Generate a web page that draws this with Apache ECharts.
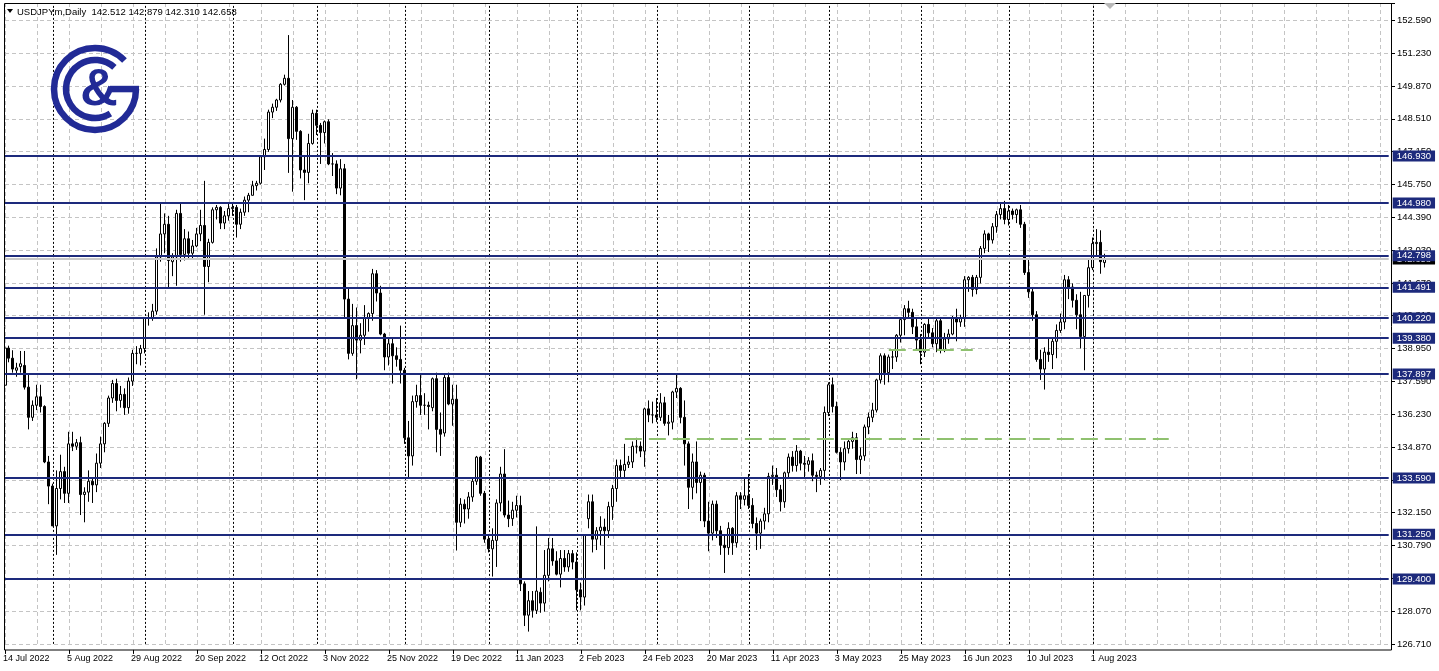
<!DOCTYPE html>
<html><head><meta charset="utf-8">
<script src="https://cdn.jsdelivr.net/npm/echarts@6/dist/echarts.min.js"></script>
<style>html,body{margin:0;padding:0;background:#fff}#c{width:1439px;height:671px}</style>
</head><body><div id="c"></div>
<script>
// ---- data: daily candles [open, high, low, close] ----
const jul22 = [[137.43,139.38,137.30,138.97],[138.97,139.07,138.38,138.55],[138.55,138.88,137.95,138.10],[138.05,138.36,137.78,138.15],[138.20,138.85,137.95,138.32],[138.25,138.85,137.25,137.35],[137.35,137.90,135.60,136.10],[136.10,136.80,135.95,136.60],[136.60,137.45,136.40,136.95],[136.95,137.45,136.30,136.55],[136.55,136.60,134.20,134.25],[134.25,134.50,132.50,133.25]];
const aug22 = [[133.25,133.35,131.60,131.60],[131.60,133.90,130.40,133.15],[133.15,134.55,132.70,133.85],[133.85,134.05,132.55,132.95],[132.95,135.50,132.55,135.00],[135.00,135.50,134.70,134.90],[134.90,135.20,134.75,135.05],[135.05,135.30,132.05,132.90],[132.90,133.20,131.75,133.00],[133.00,133.90,132.60,133.45],[133.45,133.60,132.55,133.30],[133.30,134.60,133.00,134.20],[134.20,135.30,134.00,135.00],[135.00,135.90,134.65,135.85],[135.85,137.00,135.70,136.90],[136.90,137.65,136.70,137.50],[137.50,137.70,136.35,136.80],[136.80,137.40,136.50,137.05],[137.05,137.30,136.20,136.50],[136.50,137.75,136.25,137.60],[137.60,138.90,137.40,138.75],[138.75,139.05,138.30,138.75],[138.75,139.10,138.25,138.95]];
const sep22 = [[138.95,140.25,138.75,140.20],[140.20,140.45,139.90,140.20],[140.20,140.80,140.10,140.50],[140.50,143.10,140.35,142.75],[142.75,144.99,142.55,143.70],[143.70,144.55,142.90,144.10],[144.10,144.45,141.50,142.60],[142.55,142.90,141.95,142.75],[142.75,144.70,141.55,144.55],[144.55,144.95,142.55,142.85],[142.85,143.90,142.60,143.50],[143.50,143.80,142.70,142.90],[142.90,143.45,142.65,143.20],[143.20,143.95,143.15,143.70],[143.70,144.70,143.40,144.05],[144.05,145.90,140.35,142.35],[142.35,143.50,141.70,143.35],[143.35,144.80,143.30,144.70],[144.70,144.90,144.30,144.80],[144.80,144.85,143.90,144.15],[144.15,144.65,143.90,144.45],[144.45,144.95,144.25,144.75]];
const oct22 = [[144.75,145.00,144.45,144.80],[144.80,144.90,143.55,144.10],[144.10,144.75,143.90,144.60],[144.60,145.25,144.45,145.10],[145.10,145.40,144.60,145.30],[145.30,145.90,145.30,145.70],[145.70,145.90,145.50,145.80],[145.80,146.95,145.75,146.90],[146.90,147.65,146.35,147.20],[147.20,148.85,147.10,148.75],[148.75,149.10,148.50,148.95],[148.95,149.30,148.80,149.25],[149.25,149.95,149.15,149.90],[149.90,150.30,149.85,150.15],[150.15,151.94,146.23,147.65],[147.65,149.25,145.45,148.95],[148.95,149.00,147.60,147.95],[147.95,148.00,146.00,146.35],[146.35,146.95,145.10,146.25],[146.25,147.85,145.80,147.45],[147.45,148.85,147.40,148.70]];
const nov22 = [[148.70,148.85,147.80,148.20],[148.20,148.30,146.60,147.90],[147.90,148.40,147.45,148.35],[148.35,148.45,146.55,146.60],[146.60,147.05,146.10,146.60],[146.60,146.75,145.35,145.60],[145.60,146.80,145.30,146.40],[146.40,146.60,140.20,141.00],[141.00,141.50,138.50,138.75],[138.75,140.80,138.65,139.90],[139.90,140.65,137.68,139.30],[139.30,140.00,138.75,139.50],[139.50,140.75,139.10,140.20],[140.20,140.45,139.65,140.40],[140.40,142.25,140.10,142.05],[142.05,142.20,140.90,141.25],[141.25,141.55,139.50,139.55],[139.55,139.60,138.05,138.60],[138.60,139.35,138.25,139.15],[139.15,139.40,137.50,138.65],[138.65,139.00,138.20,138.50],[138.50,139.90,137.50,138.05]];
const dec22 = [[138.05,138.15,135.00,135.25],[135.25,135.95,133.60,134.50],[134.50,137.00,134.10,136.75],[136.75,137.45,136.50,137.00],[137.00,137.85,136.20,136.60],[136.60,137.10,136.20,136.60],[136.60,136.75,135.60,136.55],[136.50,137.75,136.35,137.70],[137.70,137.95,134.65,135.60],[135.60,136.30,134.50,135.40],[135.45,137.85,135.30,137.75],[137.75,137.95,136.60,136.65],[136.65,137.45,135.75,136.85],[136.85,137.45,130.58,131.75],[131.75,132.75,131.55,132.50],[132.50,132.70,131.70,132.30],[132.30,133.00,131.90,132.80],[132.80,133.55,132.60,133.45],[133.45,134.50,133.30,134.45],[134.45,134.50,132.85,132.95],[132.95,133.05,130.90,131.05]];
const jan23 = [[131.05,131.25,130.50,130.65],[130.65,131.50,129.50,131.00],[131.00,132.70,129.90,132.55],[132.55,134.05,132.20,133.75],[133.75,134.78,131.95,132.05],[132.05,132.65,131.55,131.90],[131.90,132.60,131.60,132.25],[132.25,132.85,131.95,132.45],[132.45,132.85,128.90,129.20],[129.20,129.30,127.45,127.90],[127.90,128.90,127.22,128.50],[128.50,128.90,127.80,128.10],[128.10,131.58,127.95,128.90],[128.85,129.05,128.00,128.40],[128.40,130.60,128.05,129.55],[129.55,131.10,129.30,130.65],[130.65,131.10,129.95,130.15],[130.15,130.55,129.55,129.60],[129.60,130.60,129.05,130.25],[130.25,130.60,129.70,129.90],[129.90,130.60,129.70,130.45],[130.45,130.60,129.80,130.10]];
const feb23 = [[130.10,130.50,128.10,128.95],[128.95,129.25,128.10,128.65],[128.65,131.20,128.30,131.20],[131.90,132.90,131.50,132.60],[132.60,132.90,130.50,131.05],[131.05,131.55,130.60,131.40],[131.40,132.00,130.80,131.55],[131.55,131.90,129.80,131.40],[131.40,132.60,131.10,132.40],[132.40,133.30,131.85,133.15],[133.15,134.35,132.60,134.10],[134.10,134.35,133.60,133.90],[133.90,135.00,133.55,134.15],[134.15,134.50,134.00,134.25],[134.25,135.10,134.00,134.90],[134.90,135.25,134.60,134.90],[134.90,135.10,134.45,134.70],[134.70,136.50,134.05,136.45],[136.45,136.80,135.90,136.20],[136.20,136.75,135.85,136.20]];
const mar23 = [[136.20,136.90,135.90,136.10],[136.10,137.10,135.95,136.70],[136.70,136.95,135.75,135.85],[135.85,136.20,135.35,135.90],[135.90,137.20,135.60,137.15],[137.15,137.90,136.90,137.30],[137.30,137.35,135.85,136.10],[136.10,136.80,134.10,135.00],[135.00,135.10,132.30,133.20],[133.20,134.60,132.70,134.25],[134.25,135.10,132.95,133.40],[133.40,133.85,131.80,133.70],[133.70,133.80,131.55,131.80],[131.80,132.60,130.55,131.30],[131.30,132.65,131.00,132.50],[132.50,132.65,131.10,131.40],[131.40,131.60,130.40,130.80],[130.80,131.20,129.65,130.70],[130.70,131.75,130.40,131.50],[131.50,131.55,130.40,130.90],[130.90,133.00,130.70,132.85],[132.85,133.00,132.30,132.70],[132.70,133.60,132.45,132.85]];
const apr23 = [[132.85,133.75,132.30,132.45],[132.45,132.75,131.50,131.70],[131.70,131.95,130.60,131.30],[131.30,131.90,130.65,131.80],[131.80,132.35,131.45,132.10],[132.10,133.80,131.75,133.65],[133.65,134.10,133.30,133.70],[133.70,134.00,132.80,133.10],[133.10,133.30,132.20,132.60],[132.60,133.85,132.35,133.80],[133.80,134.60,133.55,134.45],[134.45,134.70,133.85,134.10],[134.10,134.95,133.85,134.70],[134.70,134.75,133.90,134.20],[134.20,134.50,133.60,134.15],[134.15,134.45,133.85,134.30],[134.30,134.60,133.45,133.70],[133.70,133.85,133.00,133.65],[133.65,134.00,133.30,133.90],[133.90,136.55,133.50,136.30]];
const may23 = [[136.30,137.55,136.15,137.45],[137.45,137.75,136.30,136.55],[136.55,136.75,134.60,134.65],[134.65,134.85,133.50,134.25],[134.25,135.10,133.90,134.80],[134.80,135.20,134.60,135.10],[135.10,135.50,134.80,135.25],[135.25,135.45,133.75,134.35],[134.35,134.85,133.75,134.50],[134.50,135.80,134.30,135.70],[135.70,136.30,135.40,136.10],[136.10,136.70,135.90,136.40],[136.40,137.70,136.30,137.65],[137.65,138.75,137.50,138.65],[138.65,138.75,137.45,137.95],[137.95,138.70,137.55,138.60],[138.60,138.90,138.10,138.60],[138.60,139.55,138.40,139.50],[139.50,140.25,139.20,140.15],[140.15,140.75,139.50,140.60],[140.60,140.93,140.20,140.45],[140.45,140.60,139.55,139.85],[139.85,140.25,138.90,139.30]];
const jun23 = [[139.30,139.55,138.30,138.80],[138.80,140.00,138.60,139.95],[139.95,140.25,139.35,139.60],[139.60,139.80,139.00,139.15],[139.15,140.25,138.80,140.10],[140.10,140.20,138.75,138.90],[138.90,139.60,138.80,139.35],[139.35,139.75,139.15,139.55],[139.55,140.30,139.50,140.20],[140.20,140.60,139.25,140.05],[140.05,140.35,139.85,140.20],[140.20,141.95,139.85,141.80],[141.80,141.95,141.30,141.90],[141.90,142.00,141.10,141.40],[141.40,142.00,141.20,141.90],[141.90,143.20,141.65,143.10],[143.10,143.85,142.90,143.70],[143.70,143.75,142.95,143.45],[143.45,144.15,143.30,144.00],[144.00,144.65,143.75,144.50],[144.50,144.95,144.30,144.75],[144.75,145.07,144.10,144.30]];
const jul23 = [[144.30,144.90,144.05,144.65],[144.65,144.75,144.30,144.50],[144.50,144.75,144.15,144.70],[144.70,144.90,143.95,144.10],[144.10,144.20,142.00,142.10],[142.10,142.65,141.05,141.30],[141.30,141.50,140.10,140.35],[140.35,140.50,138.40,138.50],[138.50,138.90,137.65,138.10],[138.10,139.00,137.25,138.80],[138.80,139.40,138.40,138.70],[138.70,139.40,138.10,139.25],[139.25,139.95,138.55,139.70],[139.70,140.40,139.60,140.05],[140.05,142.00,139.75,141.80],[141.80,141.95,141.00,141.50],[141.50,141.65,140.65,140.95],[140.95,141.20,139.75,140.35],[140.35,141.30,138.95,139.45],[139.45,141.15,138.05,141.15],[141.15,142.70,140.65,142.30]];
const aug23 = [[142.30,143.55,142.20,143.30],[143.30,143.90,142.75,143.35],[143.35,143.85,142.05,142.55],[142.512,142.879,142.310,142.658]];

// calendar: first bar date, days without a bar, total slots on the time axis
const firstDay = '2022-07-14';
const missingDays = ['2022-12-26'];
const totalSlots = 347;
const monthNames = ['Jan','Feb','Mar','Apr','May','Jun','Jul','Aug','Sep','Oct','Nov','Dec'];

// price axis ticks
const yMin = 126.71, yStep = 1.36, yMax = 153.27;
const yTickLabels = ['126.710','128.070','129.430','130.790','132.150','133.510','134.870','136.230','137.590','138.950','140.310','141.670','143.030','144.390','145.750','147.150','148.510','149.870','151.230','152.590'];

// horizontal levels
const levelValues = [146.93, 144.98, 142.798, 141.491, 140.22, 139.38, 137.897, 133.59, 131.25, 129.40];
const levelLabels = ['146.930','144.980','142.798','141.491','140.220','139.380','137.897','133.590','131.250','129.400'];
const bidValue = 142.658, bidLabel = '142.658';
// green dashed lines [startIndex, endIndex, price]
const greenLines = [[155, 291, 135.22], [221, 242, 138.88]];
const header = 'USDJPYm,Daily  142.512 142.879 142.310 142.658';

// ---- build ----
const candles = [].concat(jul22, aug22, sep22, oct22, nov22, dec22, jan23, feb23, mar23, apr23, may23, jun23, jul23, aug23);
const lastIdx = candles.length - 1;
const cats = [], monthStarts = [];
{
  const p = firstDay.split('-').map(Number);
  const d = new Date(Date.UTC(p[0], p[1]-1, p[2]));
  let prevM = -1;
  while (cats.length < totalSlots) {
    const wd = d.getUTCDay();
    const iso = d.toISOString().slice(0,10);
    if (wd !== 0 && wd !== 6 && missingDays.indexOf(iso) < 0) {
      const m = d.getUTCMonth();
      if (prevM !== -1 && m !== prevM) monthStarts.push(cats.length);
      prevM = m;
      cats.push(d.getUTCDate() + ' ' + monthNames[m] + ' ' + d.getUTCFullYear());
    }
    d.setUTCDate(d.getUTCDate() + 1);
  }
}
const NAVY = '#1d2a7c', LOGO = '#212a96', GRID = '#c4c4c4';
const FONT = '"Liberation Sans", Arial, sans-serif';

const chart = echarts.init(document.getElementById('c'), null, {renderer: 'canvas'});
chart.setOption({
  animation: false,
  backgroundColor: '#ffffff',
  grid: {left: 4.7, right: 50.3, top: 3, bottom: 27.1, containLabel: false},
  xAxis: {
    type: 'category', data: cats, boundaryGap: false, offset: 6,
    axisLine: {show: false},
    axisTick: {show: true, length: 4, interval: (i) => i % 16 === 0 && i <= lastIdx, lineStyle: {color: '#000'}},
    axisLabel: {interval: (i) => i % 16 === 0 && i <= lastIdx, align: 'left', margin: 4, fontSize: 9, fontFamily: FONT, color: '#000', padding: [0,0,0,-2]},
    splitLine: {show: true, interval: (i) => i % 8 === 0, lineStyle: {color: GRID, type: [4,3], width: 1}}
  },
  yAxis: {
    type: 'value', position: 'right', min: yMin, max: yMax, interval: yStep, offset: 2.3, scale: true,
    axisLine: {show: false},
    axisTick: {show: true, length: 4, lineStyle: {color: '#000'}},
    axisLabel: {margin: 6, fontSize: 9.5, fontFamily: FONT, color: '#000',
      formatter: (v) => { const k = Math.round((v - yMin) / yStep); return (Math.abs(yMin + k*yStep - v) < 0.005 && yTickLabels[k]) ? yTickLabels[k] : ''; }},
    splitLine: {show: true, lineStyle: {color: GRID, type: [4,3], width: 1}}
  },
  series: [
    {type: 'line', data: [], z: 1, silent: true,
      markLine: {silent: true, animation: false, symbol: ['none','none'], label: {show: false},
        lineStyle: {color: '#000', type: [2,2], width: 1},
        data: monthStarts.filter(i => i <= lastIdx).map(i => ({xAxis: i}))}},
    {type: 'line', data: [], z: 1, silent: true,
      markLine: {silent: true, animation: false, symbol: ['none','none'], label: {show: false},
        lineStyle: {color: '#8fc16f', type: [17,7], width: 2},
        data: greenLines.map(g => [{coord: [g[0], g[2]]}, {coord: [g[1], g[2]]}])}},
    {type: 'line', data: [], z: 2, silent: true,
      markLine: {silent: true, animation: false, symbol: ['none','none'],
        lineStyle: {color: '#c8c8c8', type: 'solid', width: 2},
        label: {show: true, position: 'end', distance: 4, formatter: bidLabel, color: '#fff', backgroundColor: '#000', padding: [1,4,0,4], fontSize: 9.5, fontFamily: FONT},
        data: [{yAxis: bidValue}]}},
    {type: 'candlestick', name: 'USDJPYm', z: 3, barWidth: 2.5,
      data: candles.map(c => [c[0], c[3], c[2], c[1]]),
      itemStyle: {color: '#ffffff', color0: '#000000', borderColor: '#000000', borderColor0: '#000000', borderWidth: 1}},
    {type: 'line', data: [], z: 4, silent: true,
      markLine: {silent: true, animation: false, symbol: ['none','none'],
        lineStyle: {color: NAVY, type: 'solid', width: 2},
        label: {show: true, position: 'end', distance: 4, color: '#fff', backgroundColor: NAVY, padding: [1,4,0,4], fontSize: 9.5, fontFamily: FONT},
        data: levelValues.map((v, i) => ({yAxis: v, label: {formatter: levelLabels[i]}}))}}
  ],
  graphic: [
    {type: 'rect', silent: true, z: 100, shape: {x: 4.5, y: 3.5, width: 1387, height: 646.5}, style: {stroke: '#000', fill: null, lineWidth: 1}},
    {type: 'polygon', silent: true, z: 100, shape: {points: [[7,9],[13,9],[10,13]]}, style: {fill: '#000'}},
    {type: 'text', silent: true, z: 100, style: {text: header, x: 17, y: 12, font: '9.5px ' + FONT, fill: '#000', align: 'left', verticalAlign: 'middle'}},
    {type: 'polygon', silent: true, z: 100, shape: {points: [[1104,3],[1116,3],[1110,9]]}, style: {fill: '#b8b8b8'}},
    {type: 'arc', silent: true, z: 50, shape: {cx: 95, cy: 89, r: 41, startAngle: 0, endAngle: 316*Math.PI/180, clockwise: true}, style: {stroke: LOGO, lineWidth: 6.5, fill: null}},
    {type: 'arc', silent: true, z: 50, shape: {cx: 95, cy: 89, r: 29, startAngle: 58*Math.PI/180, endAngle: 312*Math.PI/180, clockwise: true}, style: {stroke: LOGO, lineWidth: 6.5, fill: null}},
    {type: 'rect', silent: true, z: 50, shape: {x: 110, y: 85.8, width: 29, height: 6.5}, style: {fill: LOGO}},
    {type: 'text', silent: true, z: 50, style: {text: '&', x: 99, y: 91, font: 'bold 52px "Liberation Sans", Arial, sans-serif', fill: LOGO, align: 'center', verticalAlign: 'middle'}}
  ]
});
</script>
</body></html>
